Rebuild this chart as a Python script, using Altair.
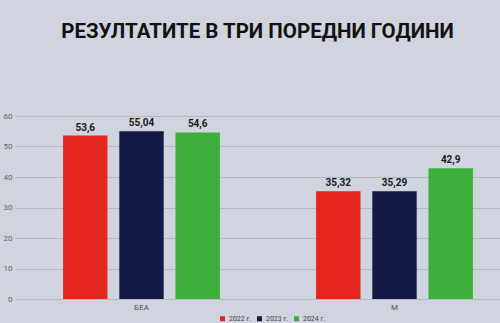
import altair as alt
import pandas as pd

categories = ["БЕА", "М"]
years = ["2022 г.", "2023 г.", "2024 г."]
bea_values = [53.6, 55.04, 54.6]
m_values = [35.32, 35.29, 42.9]
colors = ["#e5261c", "#141a45", "#3cae3a"]
y_ticks = [0, 10, 20, 30, 40, 50, 60]

rows = []
for cat, vals in zip(categories, [bea_values, m_values]):
    for yr, v in zip(years, vals):
        rows.append({"cat": cat, "year": yr, "value": v,
                     "label": f"{v:g}".replace(".", ",")})
df = pd.DataFrame(rows)

x = alt.X("cat:N", sort=categories,
          scale=alt.Scale(range=[0, 506], paddingInner=0.38, paddingOuter=0.19),
          axis=alt.Axis(title=None, labelAngle=0, domain=False, ticks=False,
                        labelFontSize=8, labelColor="#555", labelPadding=4,
                        labelFont="Roboto"))
xo = alt.XOffset("year:N", sort=years, scale=alt.Scale(paddingInner=0.21))
y = alt.Y("value:Q", scale=alt.Scale(domain=[0, 60]),
          axis=alt.Axis(title=None, values=y_ticks, domain=False, ticks=False,
                        labelFontSize=8, labelColor="#666", labelPadding=3,
                        gridColor="#b3b8c2", labelFont="Roboto"))

bars = alt.Chart(df).mark_bar().encode(
    x=x, xOffset=xo, y=y,
    color=alt.Color("year:N", sort=years,
                    scale=alt.Scale(domain=years, range=colors),
                    legend=alt.Legend(title=None, orient="none", direction="horizontal",
                                      legendX=204, legendY=199, symbolType="square",
                                      symbolSize=25, labelFontSize=7, labelColor="#444",
                                      labelFont="Roboto", columnPadding=4, labelOffset=3,
                                      symbolStrokeWidth=0)),
)
texts = alt.Chart(df).mark_text(dy=-8, fontSize=10, fontWeight="bold", color="#1a1a1a",
                                font="Roboto").encode(
    x=x, xOffset=xo, y=y, text="label:N"
)

chart = alt.layer(bars, texts).properties(
    width=485, height=183,
    autosize=alt.AutoSizeParams(type="none"),
    padding={"left": 15, "top": 116, "right": 0, "bottom": 24},
    background="#cfd4de",
    title=alt.TitleParams("РЕЗУЛТАТИТЕ В ТРИ ПОРЕДНИ ГОДИНИ", fontSize=20.5, font="Roboto",
                          fontWeight="bold", color="#111", anchor="middle", offset=70),
).configure_view(stroke=None)

chart.save("out.html", embed_options={"renderer": "svg", "actions": False})
